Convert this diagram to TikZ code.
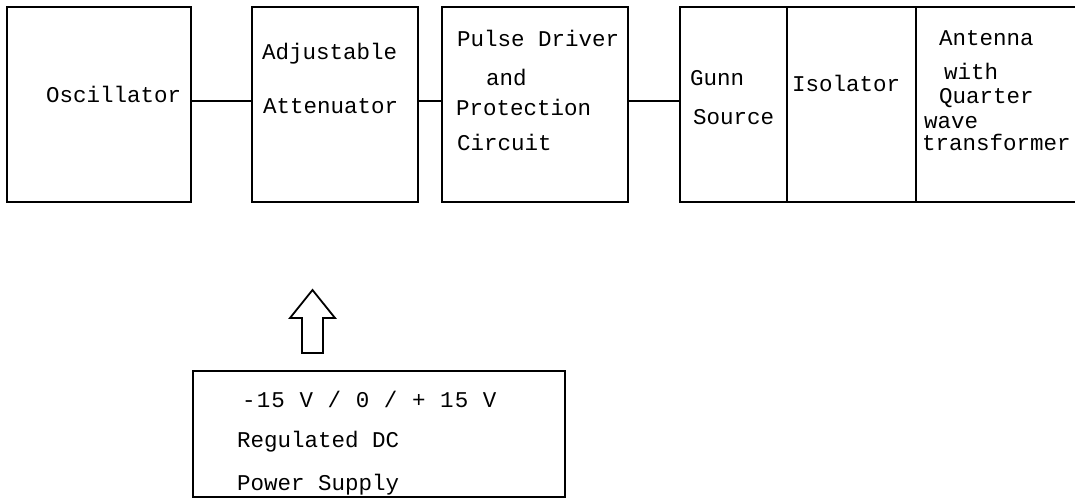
\documentclass[tikz,border=0pt]{standalone}
\usepackage{fontspec}
\usepackage{tikz}
\usetikzlibrary{positioning}
\newfontfamily\plotfont{Liberation Mono}
\newfontfamily\plotwide{Liberation Mono}[LetterSpace=5]
\newcommand\pf{\plotfont\fontsize{22.5pt}{26pt}\selectfont}

\begin{document}
\begin{tikzpicture}[x=1pt,y=-1pt,
box/.style={draw,line width=1.8pt,outer sep=0pt,inner sep=0pt,minimum height=195pt},
txt/.style={anchor=base west,inner sep=0pt,font=\pf},
wire/.style={line width=1.8pt}]
\useasboundingbox (0,0) rectangle (1075,498);
% top chain
\node[box,minimum width=184pt,anchor=north west] (osc) at (7,7) {};
\node[box,minimum width=166pt,right=61pt of osc] (att) {};
\node[box,minimum width=186pt,right=24pt of att] (drv) {};
\node[box,minimum width=107pt,right=52pt of drv] (gunn) {};
\node[box,minimum width=129pt,right=0pt of gunn] (iso) {};
\node[box,minimum width=174pt,right=0pt of iso] (ant) {};
\draw[wire] ([yshift=3.5pt]osc.east)--([yshift=3.5pt]att.west);
\draw[wire] ([yshift=3.5pt]att.east)--([yshift=3.5pt]drv.west);
\draw[wire] ([yshift=3.5pt]drv.east)--([yshift=3.5pt]gunn.west);
% labels
\node[txt] (t-osc) at (46,102) {Oscillator};
\node[txt] (t-att1) at (262,59) {Adjustable};
\node[txt] (t-att2) at (263,113) {Attenuator};
\node[txt] (t-drv1) at (457,46) {Pulse Driver};
\node[txt] (t-drv2) at (486,85) {and};
\node[txt] (t-drv3) at (456,115) {Protection};
\node[txt] (t-drv4) at (457,150) {Circuit};
\node[txt] (t-gunn1) at (690,85) {Gunn};
\node[txt] (t-gunn2) at (693,124) {Source};
\node[txt] (t-iso) at (792,91) {Isolator};
\node[txt] (t-ant1) at (939,45) {Antenna};
\node[txt] (t-ant2) at (944,79) {with};
\node[txt] (t-ant3) at (939,103) {Quarter};
\node[txt] (t-ant4) at (924,128) {wave};
\node[txt] (t-ant5) at (922,150) {transformer};
% supply
\node[box,minimum width=372pt,minimum height=126pt,anchor=north west] (psu) at (193,371) {};
\node[txt,font=\plotwide\fontsize{22.5pt}{26pt}\selectfont] (t-psu1) at (242,407) {-15 V / 0 / + 15 V};
\node[txt] (t-psu2) at (237,447) {Regulated DC};
\node[txt] (t-psu3) at (237,490) {Power Supply};
\draw[line width=1.8pt] (302,353)--(302,318)--(290,318)--(312.5,290)--(335,318)--(323,318)--(323,353)--cycle;
\end{tikzpicture}
\end{document}
